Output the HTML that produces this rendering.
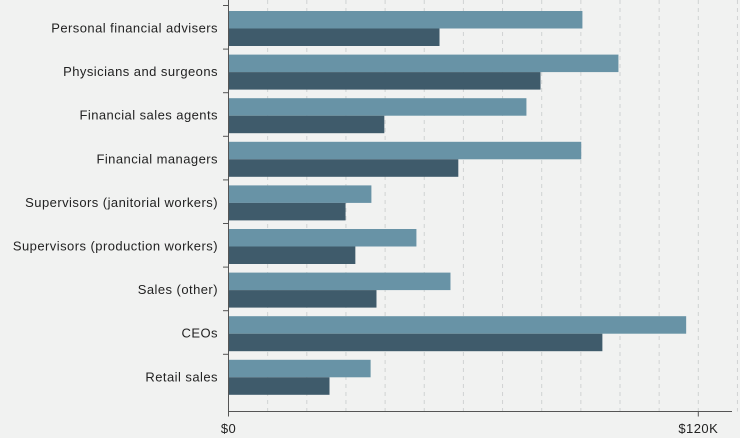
<!DOCTYPE html>
<html><head><meta charset="utf-8"><style>
html,body{margin:0;padding:0;background:#f1f2f1;}
svg{display:block;font-family:"Liberation Sans",sans-serif;}
</style></head><body>
<svg width="740" height="438" id="chart"></svg>
<script>
const categories=["Personal financial advisers","Physicians and surgeons","Financial sales agents","Financial managers","Supervisors (janitorial workers)","Supervisors (production workers)","Sales (other)","CEOs","Retail sales"];
const seriesA=[90.4,99.6,76.1,90.1,36.5,48,56.7,116.9,36.3];
const seriesB=[53.9,79.7,39.8,58.7,29.9,32.4,37.8,95.5,25.8];
const tickValues=[0,120];
const tickLabels=["$0","$120K"];
const NS="http://www.w3.org/2000/svg";
const svg=document.getElementById('chart');
const x0=228.5,pxPerK=(698.3-228.5)/120;
const x=v=>x0+v*pxPerK;
const bandTop=6,band=43.6,axisY=411.5;
function mk(t,a){const e=document.createElementNS(NS,t);for(const k in a)e.setAttribute(k,a[k]);svg.appendChild(e);return e;}
for(let v=10;v<=130;v+=10){const g=mk('line',{x1:x(v),x2:x(v),y1:0,y2:axisY,stroke:'#d0d3d3','stroke-dasharray':'4,4','stroke-width':1});

}
categories.forEach((c,i)=>{
const t=bandTop+band*i;
const a=mk('rect',{x:x0,y:t+5,width:x(seriesA[i])-x0,height:17.5,fill:'#6893a6'});


const b=mk('rect',{x:x0,y:t+22.5,width:x(seriesB[i])-x0,height:17.5,fill:'#3f5b6b'});


const l=mk('text',{x:218,y:t+26.5,'text-anchor':'end','font-size':13,'letter-spacing':'0.45',fill:'#222'});l.textContent=c;


const tk=mk('line',{x1:223,x2:x0,y1:t-0.5,y2:t-0.5,stroke:'#555'});


});
const ya=mk('line',{x1:x0,x2:x0,y1:0,y2:axisY,stroke:'#555'});


const xa=mk('line',{x1:x0,x2:732,y1:axisY,y2:axisY,stroke:'#555'});


tickValues.forEach((v,i)=>{
const tk=mk('line',{x1:x(v),x2:x(v),y1:axisY,y2:axisY+5,stroke:'#555'});


const t=mk('text',{x:x(v),y:433,'text-anchor':'middle','font-size':13,'letter-spacing':'0.45',fill:'#222'});t.textContent=tickLabels[i];


});
</script>
</body></html>
